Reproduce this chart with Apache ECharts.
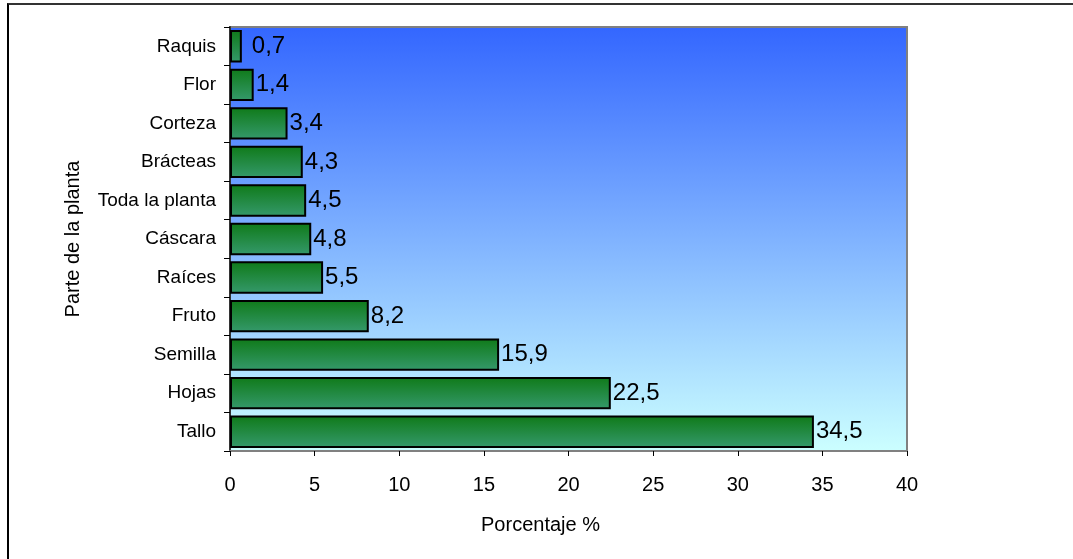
<!DOCTYPE html>
<html>
<head>
<meta charset="utf-8">
<script src="https://cdn.jsdelivr.net/npm/echarts@6/dist/echarts.min.js"></script>
<style>
  html, body { margin: 0; padding: 0; background: #fff; }
  #frame { position: absolute; left: 7px; top: 3px; width: 1080px; height: 570px;
           border-left: 2px solid #000; border-top: 2px solid #333; }
  #chart { width: 1073px; height: 559px; }
</style>
</head>
<body>
<div id="frame"></div>
<div id="chart"></div>
<script>
// categories bottom -> top (ECharts draws the first category at the bottom)
var partes = ["Tallo", "Hojas", "Semilla", "Fruto", "Raíces", "Cáscara",
  "Toda la planta", "Brácteas", "Corteza", "Flor", "Raquis"];
var porcentaje = [34.5, 22.5, 15.9, 8.2, 5.5, 4.8, 4.5, 4.3, 3.4, 1.4, 0.7];
var xTicks = [0, 5, 10, 15, 20, 25, 30, 35, 40];

var chart = echarts.init(document.getElementById("chart"));

var font = "Liberation Sans, Arial, sans-serif";

var barData = porcentaje.map(function (v, i) {
  var item = { value: v };
  // the smallest label sits a bit further from its bar in the original
  if (partes[i] === "Raquis") item.label = { distance: 10 };
  return item;
});

var option = {
  animation: false,
  grid: {
    left: 230, right: 166, top: 27, bottom: 108,
    show: true,
    borderColor: "#808080",
    borderWidth: 2,
    backgroundColor: new echarts.graphic.LinearGradient(0, 0, 0, 1, [
      { offset: 0, color: "#3366ff" },
      { offset: 1, color: "#ccffff" }
    ])
  },
  xAxis: {
    type: "value",
    min: xTicks[0],
    max: xTicks[xTicks.length - 1],
    interval: 5,
    name: "Porcentaje %",
    nameLocation: "middle",
    nameGap: 64,
    nameTextStyle: { color: "#000", fontSize: 20, fontFamily: font, padding: [0, 56, 0, 0] },
    axisLine: { show: true, lineStyle: { color: "#808080", width: 2 } },
    axisTick: { show: true, length: 5, lineStyle: { color: "#000" } },
    axisLabel: { color: "#000", fontSize: 20, fontFamily: font, margin: 24 },
    splitLine: { show: false }
  },
  yAxis: {
    type: "category",
    data: partes,
    name: "Parte de la planta",
    nameLocation: "middle",
    nameGap: 147,
    nameTextStyle: { color: "#000", fontSize: 20, fontFamily: font },
    axisLine: { show: true, lineStyle: { color: "#333", width: 2 } },
    axisTick: { show: true, length: 6, lineStyle: { color: "#000" } },
    axisLabel: { color: "#000", fontSize: 19, fontFamily: font, margin: 14 }
  },
  series: [
    {
      type: "bar",
      data: barData,
      barCategoryGap: "16%",
      itemStyle: {
        color: new echarts.graphic.LinearGradient(0, 0, 0, 1, [
          { offset: 0, color: "#0f7a18" },
          { offset: 1, color: "#35996c" }
        ]),
        borderColor: "#000",
        borderWidth: 2
      },
      label: {
        show: true,
        position: "right",
        distance: 2,
        color: "#000",
        fontSize: 24,
        fontFamily: font,
        formatter: function (p) { return String(p.value).replace(".", ","); }
      }
    }
  ]
};

chart.setOption(option);
</script>
</body>
</html>
